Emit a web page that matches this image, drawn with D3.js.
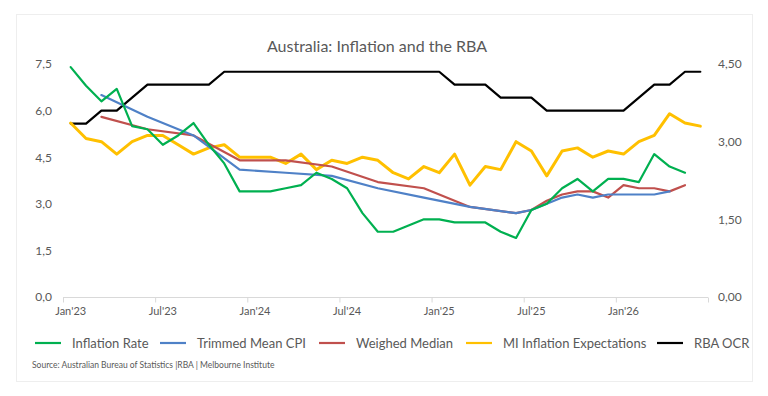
<!DOCTYPE html>
<html>
<head>
<meta charset="utf-8">
<script src="https://cdn.jsdelivr.net/npm/d3@7"></script>
<style>
  html, body { margin: 0; padding: 0; background: #ffffff; }
  svg { display: block; }
  text { font-family: Lato, "Open Sans", sans-serif; fill: #595959; }
</style>
</head>
<body>
<svg id="chart" width="768" height="396"></svg>
<script>
// ---- Data ----
const months = [
  "Jan'23","Feb'23","Mar'23","Apr'23","May'23","Jun'23","Jul'23","Aug'23","Sep'23","Oct'23","Nov'23","Dec'23",
  "Jan'24","Feb'24","Mar'24","Apr'24","May'24","Jun'24","Jul'24","Aug'24","Sep'24","Oct'24","Nov'24","Dec'24",
  "Jan'25","Feb'25","Mar'25","Apr'25","May'25","Jun'25","Jul'25","Aug'25","Sep'25","Oct'25","Nov'25","Dec'25",
  "Jan'26","Feb'26","Mar'26","Apr'26","May'26","Jun'26"
];
const tickLabels = ["Jan'23","Jul'23","Jan'24","Jul'24","Jan'25","Jul'25","Jan'26"];
const leftTicks = [0, 1.5, 3, 4.5, 6, 7.5];
const rightTicks = [0, 1.5, 3, 4.5];

const inflationRate = [7.4,6.8,6.3,6.7,5.5,5.4,4.9,5.2,5.6,4.9,4.3,3.4,
  3.4,3.4,3.5,3.6,4.0,3.8,3.5,2.7,2.1,2.1,2.3,2.5,
  2.5,2.4,2.4,2.4,2.1,1.9,2.8,3.0,3.5,3.8,3.4,3.8,
  3.8,3.7,4.6,4.2,4.0,null];
const trimmedMean = [null,null,6.5,null,null,5.8,null,null,5.2,null,null,4.1,
  null,null,4.0,null,null,3.9,null,null,3.5,null,null,3.2,
  null,null,2.9,null,null,2.7,2.8,3.0,3.2,3.3,3.2,3.3,
  3.3,3.3,3.3,3.4,null,null];
const weighedMedian = [null,null,5.8,null,null,5.4,null,null,5.2,null,null,4.4,
  null,null,4.4,null,null,4.2,null,null,3.7,null,null,3.5,
  null,null,2.9,null,null,2.7,2.8,3.1,3.3,3.4,3.4,3.2,
  3.6,3.5,3.5,3.4,3.6,null];
const miExpectations = [5.6,5.1,5.0,4.6,5.0,5.2,5.2,4.9,4.6,4.8,4.9,4.5,
  4.5,4.5,4.3,4.6,4.1,4.4,4.3,4.5,4.4,4.0,3.8,4.2,
  4.0,4.6,3.6,4.2,4.1,5.0,4.7,3.9,4.7,4.8,4.5,4.7,
  4.6,5.0,5.2,5.9,5.6,5.5];
const rbaOcr = [3.35,3.35,3.6,3.6,3.85,4.1,4.1,4.1,4.1,4.1,4.35,4.35,
  4.35,4.35,4.35,4.35,4.35,4.35,4.35,4.35,4.35,4.35,4.35,4.35,
  4.35,4.1,4.1,4.1,3.85,3.85,3.85,3.6,3.6,3.6,3.6,3.6,
  3.6,3.85,4.1,4.1,4.35,4.35];

const seriesNames = ["Inflation Rate","Trimmed Mean CPI","Weighed Median","MI Inflation Expectations","RBA OCR"];
const seriesColors = ["#00b050","#4f81c7","#c0504d","#ffc000","#000000"];

// ---- Layout ----
const svg = d3.select("#chart");
const plotLeft = 63, plotRight = 708, plotTop = 64, plotBottom = 297;

svg.append("rect").attr("x", 16.5).attr("y", 14.5).attr("width", 736).attr("height", 367)
  .attr("fill", "#ffffff").attr("stroke", "#eeeeee").attr("stroke-width", 1);

const x = d3.scaleBand().domain(months).range([plotLeft, plotRight]).padding(0);
const xEdge = d3.scaleLinear().domain([0, months.length]).range([plotLeft, plotRight]);
const yL = d3.scaleLinear().domain([0, 7.5]).range([plotBottom, plotTop]);
const yR = d3.scaleLinear().domain([0, 4.5]).range([plotBottom, plotTop]);
const cx = m => x(m) + x.bandwidth() / 2;

// Title
svg.append("text").attr("x", 377).attr("y", 52).attr("text-anchor", "middle")
  .style("font-size", "16px").text("Australia: Inflation and the RBA");

// Axes
const gL = svg.append("g").attr("transform", `translate(${plotLeft},0)`)
  .call(d3.axisLeft(yL).tickValues(leftTicks).tickSize(0).tickPadding(11)
    .tickFormat(d => d.toFixed(1).replace(".", ",")));
gL.select(".domain").remove();
gL.selectAll("text").style("font-size", "12px").style("font-family", "Lato").attr("fill", "#595959");

const gR = svg.append("g").attr("transform", `translate(${plotRight},0)`)
  .call(d3.axisRight(yR).tickValues(rightTicks).tickSize(0).tickPadding(10)
    .tickFormat(d => d.toFixed(2).replace(".", ",")));
gR.select(".domain").remove();
gR.selectAll("text").style("font-size", "12px").style("font-family", "Lato").attr("fill", "#595959");

const gTicks = svg.append("g").attr("transform", `translate(0,${plotBottom + 0.5})`)
  .call(d3.axisBottom(xEdge).tickValues(d3.range(0, months.length + 1, 6)).tickSize(5).tickFormat(""));
gTicks.select(".domain").attr("stroke", "#d9d9d9").attr("d", `M${plotLeft},0H${plotRight}`);
gTicks.selectAll("line").attr("stroke", "#d9d9d9");

const gX = svg.append("g").attr("transform", `translate(0,${plotBottom})`)
  .call(d3.axisBottom(x).tickValues(tickLabels).tickSize(0).tickPadding(10));
gX.select(".domain").remove();
gX.selectAll("text").style("font-size", "11px").style("font-family", "Lato").attr("fill", "#595959");

// Lines
function drawSeries(values, yScale, color, width) {
  const pts = months.map((m, i) => ({ m, v: values[i] })).filter(d => d.v != null);
  svg.append("path").datum(pts)
    .attr("fill", "none").attr("stroke", color).attr("stroke-width", width)
    .attr("stroke-linejoin", "round").attr("stroke-linecap", "round")
    .attr("d", d3.line().x(d => cx(d.m)).y(d => yScale(d.v)));
}
drawSeries(rbaOcr, yR, seriesColors[4], 2.2);
drawSeries(miExpectations, yL, seriesColors[3], 3);
drawSeries(weighedMedian, yL, seriesColors[2], 2.2);
drawSeries(trimmedMean, yL, seriesColors[1], 2.2);
drawSeries(inflationRate, yL, seriesColors[0], 2.2);

// Legend
const legendX = [35, 160, 319, 466, 657];
const lg = svg.append("g");
seriesNames.forEach((name, i) => {
  lg.append("line").attr("x1", legendX[i]).attr("x2", legendX[i] + 26)
    .attr("y1", 343).attr("y2", 343).attr("stroke", seriesColors[i]).attr("stroke-width", 2.2);
  lg.append("text").attr("x", legendX[i] + 37).attr("y", 347.5)
    .style("font-size", "13px").text(name);
});

// Source
svg.append("text").attr("x", 32).attr("y", 368).style("font-size", "8.5px")
  .text("Source: Australian Bureau of Statistics |RBA | Melbourne Institute");
</script>
</body>
</html>
